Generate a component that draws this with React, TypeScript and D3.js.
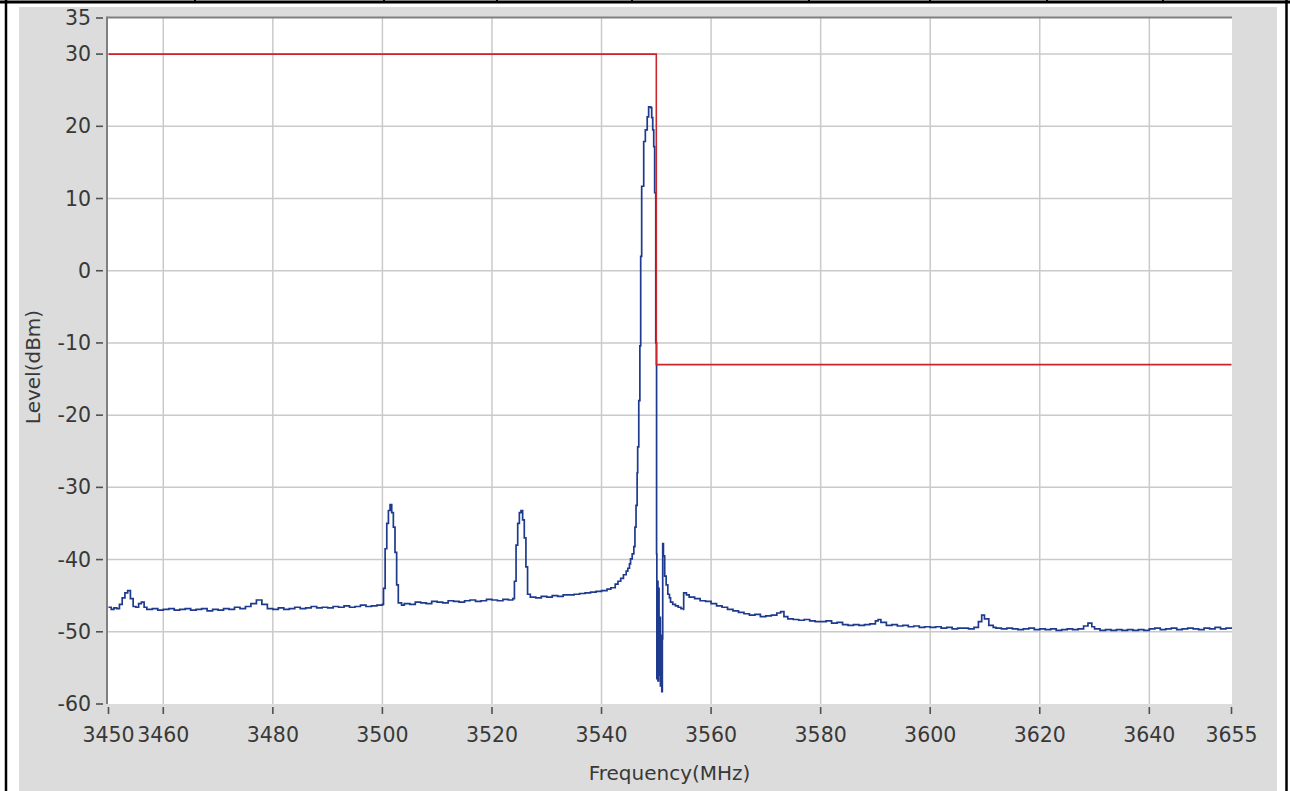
import React from 'react';
import * as d3 from 'd3';

const xTicks = [3450, 3460, 3480, 3500, 3520, 3540, 3560, 3580, 3600, 3620, 3640, 3655];
const yTicks = [35, 30, 20, 10, 0, -10, -20, -30, -40, -50, -60];
const limitFreq = [3450, 3550, 3550, 3655];
const limitLevel = [30, 30, -13, -13];
const tableDividers = [195, 384, 497, 632, 809, 930, 1047, 1163];

const spectrum: [number, number][] = [
  [3450, -46.6], [3450.5, -46.9], [3451, -46.7], [3451.5, -46.8], [3452, -46.2], [3452.5, -45.3],
  [3453, -44.6], [3453.5, -44.3], [3454, -45.4], [3454.5, -46.5], [3455, -46.6], [3455.5, -46.1],
  [3456, -45.9], [3456.5, -46.6], [3457, -46.9], [3458, -46.8], [3459, -47.0], [3460, -46.9],
  [3461, -46.8], [3462, -47.0], [3463, -46.9], [3464, -46.8], [3465, -47.0], [3466, -46.9],
  [3467, -46.8], [3468, -47.1], [3469, -46.9], [3470, -47.0], [3471, -46.8], [3472, -46.9],
  [3473, -46.6], [3474, -46.8], [3475, -46.5], [3476, -46.1], [3477, -45.6], [3478, -46.2],
  [3479, -46.8], [3480, -46.9], [3481, -46.7], [3482, -46.9], [3483, -46.8], [3484, -46.6],
  [3485, -46.8], [3486, -46.7], [3487, -46.5], [3488, -46.7], [3489, -46.6], [3490, -46.7],
  [3491, -46.5], [3492, -46.6], [3493, -46.4], [3494, -46.6], [3495, -46.5], [3496, -46.3],
  [3497, -46.5], [3498, -46.4], [3499, -46.3], [3500, -46.2],
  [3500.2, -44.0], [3500.5, -38.5], [3500.8, -35.0], [3501.1, -33.2], [3501.4, -32.4], [3501.7, -33.5],
  [3502.0, -35.5], [3502.3, -39.0], [3502.6, -43.5], [3502.9, -46.0], [3503.5, -46.3], [3504, -46.1],
  [3505, -46.2], [3506, -45.9], [3507, -46.0], [3508, -46.1], [3509, -45.8], [3510, -45.9],
  [3511, -46.0], [3512, -45.7], [3513, -45.8], [3514, -45.9], [3515, -45.7], [3516, -45.6],
  [3517, -45.8], [3518, -45.7], [3519, -45.5], [3520, -45.6], [3521, -45.7], [3522, -45.5],
  [3523, -45.6], [3523.8, -45.4],
  [3524.1, -43.0], [3524.4, -38.0], [3524.7, -35.0], [3525.0, -33.5], [3525.3, -33.2], [3525.6, -34.5],
  [3525.9, -37.0], [3526.2, -41.0], [3526.5, -44.8], [3527, -45.2], [3528, -45.3], [3529, -45.1],
  [3530, -45.2], [3531, -45.0], [3532, -45.1], [3533, -44.9], [3534, -44.9], [3535, -44.8],
  [3536, -44.7], [3537, -44.6], [3538, -44.5], [3539, -44.4], [3540, -44.3], [3541, -44.1],
  [3541.7, -43.9], [3542.5, -43.4], [3543, -43.0], [3543.5, -42.6], [3544, -42.1], [3544.5, -41.6],
  [3544.8, -41.2], [3545.1, -40.6], [3545.3, -39.9], [3545.6, -39.2], [3545.9, -38.2], [3546.1, -35.5],
  [3546.3, -32.5], [3546.5, -28.0], [3546.6, -24.4], [3546.8, -18.0], [3547.0, -10.4], [3547.15, 2.0],
  [3547.33, 11.7], [3547.7, 17.9], [3548.0, 19.5], [3548.34, 21.3], [3548.6, 22.7], [3548.98, 22.6],
  [3549.16, 21.2], [3549.35, 19.5], [3549.53, 17.2], [3549.7, 10.8], [3549.9, -10.0], [3550.05, -39.2],
  [3550.1, -56.5], [3550.2, -43.0], [3550.3, -56.8], [3550.4, -44.0], [3550.5, -56.0], [3550.6, -48.0],
  [3550.75, -57.5], [3550.9, -50.5], [3551.0, -58.3], [3551.1, -51.0], [3551.17, -37.8], [3551.3, -39.5],
  [3551.53, -42.3], [3551.8, -43.5], [3552.1, -44.8], [3552.4, -45.3], [3552.6, -45.9], [3553.0, -46.2],
  [3553.5, -46.4], [3554, -46.6], [3554.5, -46.8], [3555.0, -46.9], [3555.1, -46.9],
  [3555.0, -44.6], [3555.5, -44.9], [3556, -45.2], [3557, -45.4], [3558, -45.7], [3559, -45.8],
  [3560, -46.1], [3561, -46.4], [3562, -46.6], [3563, -46.9], [3564, -47.1], [3565, -47.3],
  [3566, -47.5], [3567, -47.7], [3568, -47.6], [3569, -47.9], [3570, -47.8], [3571, -47.7],
  [3572, -47.4], [3572.7, -47.2], [3573.3, -47.9], [3574, -48.2], [3575, -48.3], [3576, -48.4],
  [3577, -48.3], [3578, -48.5], [3579, -48.6], [3580, -48.6], [3581, -48.5], [3582, -48.8],
  [3583, -48.7], [3584, -49.0], [3585, -49.1], [3586, -49.0], [3587, -49.1], [3588, -49.0],
  [3589, -48.9], [3590, -48.5], [3590.5, -48.3], [3591, -48.7], [3592, -49.1], [3593, -49.0],
  [3594, -49.2], [3595, -49.1], [3596, -49.3], [3597, -49.2], [3598, -49.4], [3599, -49.3],
  [3600, -49.4], [3601, -49.3], [3602, -49.5], [3603, -49.4], [3604, -49.6], [3605, -49.5],
  [3606, -49.5], [3607, -49.6], [3608, -49.4], [3608.8, -48.6], [3609.4, -47.7], [3609.9, -48.2],
  [3610.7, -49.1], [3611.5, -49.4], [3612, -49.5], [3613, -49.6], [3614, -49.5], [3615, -49.6],
  [3616, -49.7], [3617, -49.6], [3618, -49.5], [3619, -49.7], [3620, -49.6], [3621, -49.7],
  [3622, -49.6], [3623, -49.8], [3624, -49.7], [3625, -49.6], [3626, -49.7], [3627, -49.6],
  [3628, -49.2], [3628.8, -48.8], [3629.5, -49.3], [3630, -49.6], [3631, -49.8], [3632, -49.7],
  [3633, -49.8], [3634, -49.7], [3635, -49.8], [3636, -49.7], [3637, -49.8], [3638, -49.7],
  [3639, -49.8], [3640, -49.6], [3641, -49.5], [3642, -49.7], [3643, -49.6], [3644, -49.5],
  [3645, -49.7], [3646, -49.6], [3647, -49.5], [3648, -49.6], [3649, -49.7], [3650, -49.5],
  [3651, -49.6], [3652, -49.4], [3653, -49.6], [3654, -49.5], [3655, -49.6],
];

const W = 1290;
const H = 791;
const P = { left: 107, right: 1232, top: 18, bottom: 704 };
const FONT = '"DejaVu Sans", sans-serif';

export default function App() {
  const x = d3.scaleLinear().domain([3450, 3655]).range([108.5, 1231.5]);
  const y = d3.scaleLinear().domain([-60, 35]).range([704, 18]);

  const traceLine = d3
    .line<[number, number]>()
    .x((d) => x(d[0]))
    .y((d) => y(d[1]))
    .curve(d3.curveStepAfter);

  const limitPts: [number, number][] = limitFreq.map((f, i) => [f, limitLevel[i]]);
  const limitLine = d3
    .line<[number, number]>()
    .x((d) => x(d[0]))
    .y((d) => y(d[1]));

  return (
    <svg
      width={W}
      height={H}
      style={{ position: 'absolute', left: 0, top: 0, background: '#ffffff' }}
    >
      <defs>
        <clipPath id="plotClip">
          <rect x={P.left} y={P.top} width={P.right - P.left} height={P.bottom - P.top + 4} />
        </clipPath>
      </defs>
      {/* table frame */}
      <line x1={0} x2={W} y1={2} y2={2} stroke="#000" strokeWidth={3} />
      {tableDividers.map((d) => (
        <line key={d} x1={d} x2={d} y1={0} y2={3} stroke="#000" strokeWidth={2} />
      ))}
      <line x1={6} x2={6} y1={0} y2={H} stroke="#000" strokeWidth={2.5} />
      <line x1={1286.5} x2={1286.5} y1={0} y2={H} stroke="#000" strokeWidth={2.5} />

      {/* gray panel */}
      <rect x={19} y={7} width={1258} height={H - 7} fill="#dcdcdc" />
      {/* plot area */}
      <rect x={P.left} y={P.top} width={P.right - P.left} height={P.bottom - P.top} fill="#ffffff" />

      {/* grid */}
      {xTicks.slice(1, -1).map((t) => (
        <line key={'gx' + t} x1={x(t)} x2={x(t)} y1={P.top} y2={P.bottom} stroke="#cacaca" strokeWidth={1.5} />
      ))}
      {yTicks.slice(1, -1).map((t) => (
        <line key={'gy' + t} x1={P.left} x2={P.right} y1={y(t)} y2={y(t)} stroke="#cacaca" strokeWidth={1.5} />
      ))}

      {/* frame lines */}
      <line x1={P.left} x2={P.right} y1={P.top - 0.5} y2={P.top - 0.5} stroke="#808080" strokeWidth={2} />
      <line x1={P.left} x2={P.left} y1={P.top - 1.5} y2={P.bottom} stroke="#808080" strokeWidth={2} />

      {/* traces */}
      <g clipPath="url(#plotClip)">
        <path d={traceLine(spectrum) || ''} fill="none" stroke="#1e3a8e" strokeWidth={1.7} />
        <path d={limitLine(limitPts) || ''} fill="none" stroke="#c8262c" strokeWidth={1.6} />
      </g>

      {/* y axis ticks */}
      {yTicks.map((t) => (
        <g key={'yt' + t}>
          <line x1={96} x2={103} y1={y(t)} y2={y(t)} stroke="#505050" strokeWidth={1.6} />
          <text
            x={91}
            y={y(t)}
            textAnchor="end"
            dominantBaseline="central"
            fontFamily={FONT}
            fontSize={20.5}
            fill="#383838"
          >
            {t}
          </text>
        </g>
      ))}

      {/* x axis ticks */}
      {xTicks.map((t) => (
        <g key={'xt' + t}>
          <line x1={x(t)} x2={x(t)} y1={707} y2={714} stroke="#505050" strokeWidth={1.6} />
          <text
            x={x(t)}
            y={742}
            textAnchor="middle"
            fontFamily={FONT}
            fontSize={20.5}
            fill="#383838"
          >
            {t}
          </text>
        </g>
      ))}

      {/* axis titles */}
      <text
        x={(P.left + P.right) / 2}
        y={780}
        textAnchor="middle"
        fontFamily={FONT}
        fontSize={20}
        fill="#383838"
      >
        Frequency(MHz)
      </text>
      <text
        transform={`translate(40, ${(P.top + P.bottom) / 2 + 6}) rotate(-90)`}
        textAnchor="middle"
        fontFamily={FONT}
        fontSize={20}
        fill="#383838"
      >
        Level(dBm)
      </text>
    </svg>
  );
}
